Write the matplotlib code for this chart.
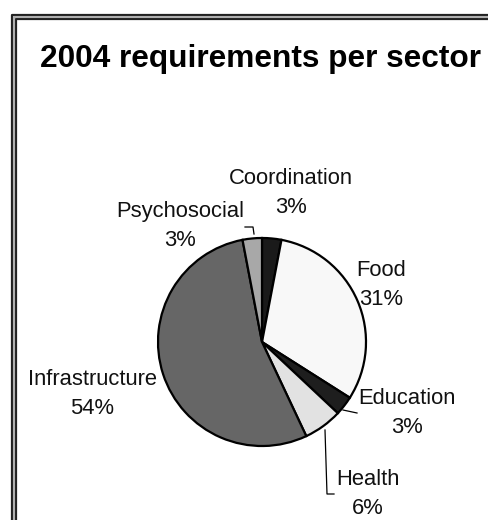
import matplotlib
matplotlib.use("Agg")
import matplotlib.pyplot as plt
from matplotlib.lines import Line2D

plt.rcParams['font.family'] = ['Liberation Sans', 'DejaVu Sans']

# Data
sectors = ["Coordination", "Food", "Education", "Health", "Infrastructure", "Psychosocial"]
shares = [3, 31, 3, 6, 54, 3]
colors = ["#1a1a1a", "#f8f8f8", "#1e1e1e", "#e2e2e2", "#666666", "#a8a8a8"]

W, H = 489, 520
fig = plt.figure(figsize=(W / 100, H / 100), dpi=100)
ax = fig.add_axes([0, 0, 1, 1])
ax.set_xlim(0, W)
ax.set_ylim(0, H)
ax.set_aspect('equal')
ax.axis('off')

def py(y):
    return H - y

# Pie
wedges, _ = ax.pie(shares, colors=colors, startangle=90, counterclock=False,
                   center=(262, py(342)), radius=104,
                   wedgeprops=dict(edgecolor='black', linewidth=1.6))
ax.set_xlim(0, W)
ax.set_ylim(0, H)

# Labels (layout positions in pixels)
label_pos = {
    "Coordination": (291, 193),
    "Food": (381, 285),
    "Education": (407, 413),
    "Health": (368, 494),
    "Infrastructure": (92, 394),
    "Psychosocial": (180, 226),
}
for name, val in zip(sectors, shares):
    x, y = label_pos[name]
    ax.text(x, py(y), f"{name}\n{val}%", ha='center', va='center',
            fontsize=15.8, linespacing=1.45, color='#111111')

# Leader lines
ax.add_line(Line2D([245, 253, 254], [py(227), py(227), py(234)], color='black', lw=0.9))
ax.add_line(Line2D([343, 357], [py(410), py(413)], color='black', lw=0.9))
ax.add_line(Line2D([325, 327, 334], [py(430), py(494), py(494)], color='black', lw=0.9))

# Title
ax.text(261, py(59), "2004 requirements per sector", ha='center', va='center',
        fontsize=22.8, fontweight='bold', color='black')

# Double frame (extends beyond right and bottom)
for off, lw in [(12, 1.6), (16, 1.6)]:
    ax.add_line(Line2D([off, off, W + 10], [py(H + 10), py(off + 3), py(off + 3)],
                       color='#222222', lw=lw))
ax.add_line(Line2D([14, 14, W + 10], [py(H + 10), py(17), py(17)], color='#b0b0b0', lw=1.5))

fig.savefig("out.png", dpi=100)
